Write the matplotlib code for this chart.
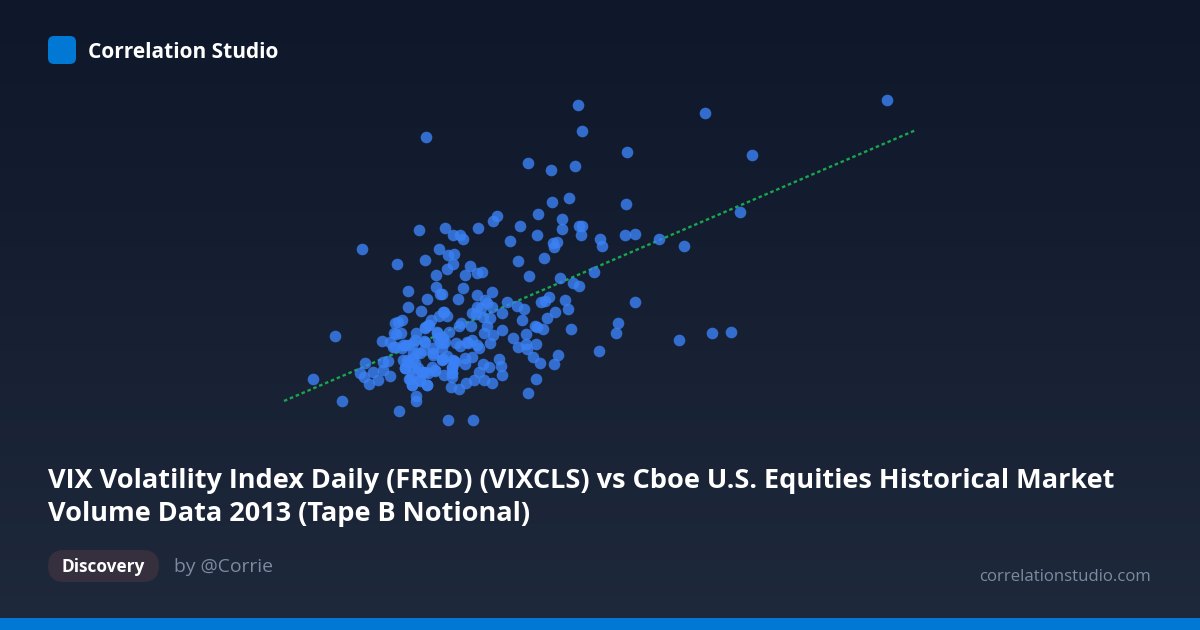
import numpy as np
import matplotlib
matplotlib.use("Agg")
import matplotlib.pyplot as plt
from matplotlib.patches import FancyBboxPatch, Rectangle

plt.rcParams['font.family'] = ['Open Sans', 'DejaVu Sans']

brand = "Correlation Studio"
title_lines = ["VIX Volatility Index Daily (FRED) (VIXCLS) vs Cboe U.S. Equities Historical Market",
               "Volume Data 2013 (Tape B Notional)"]
tag = "Discovery"
author = "by @Corrie"
site = "correlationstudio.com"

# Points (horizontal, vertical position in the plot scale)
upper_points = [
    (425.7,137.3),(527.7,163.3),(551,170),(575,166),(582.3,131),(568.7,198),(552,201.7),(538,214),
    (562,219),(562.3,229.3),(497,216.3),(493.3,221),(520,226.3),(477.7,228.3),(445,228),(418.7,230.3),
    (453.3,235),(459.7,235.3),(463,239),(510.3,241),(537,235.3),(578.7,226),(582,226.3),(580.7,235),
    (600.3,239.3),(602.3,245.7),(557,242),(552.7,243.3),(554,247),(362,249),(439.3,248.7),(448,255.3),
    (454.3,253.7),(425,260.3),(397,264),(453.3,264.3),(447.3,269),(470.3,266),(482.3,272),(476.7,273.3),
    (464.7,275.3),(435.7,275),(517.7,261.3),(544.3,258.3),(529.3,276),(560,278.3),(594.3,272.3),
    (578,105),(705,113),(887,100),(627,152),(752,155),(626,204),(740,212),(625,235),(635,234),(659,239),(684,246),
]
right_points = [
    (573.3,283.3),(579,286),(463,288),(492,292),(458,298.7),(441.7,294),(477.3,294.7),(506.7,301.7),
    (516.7,306),(524.3,309),(549,297),(545.3,300.7),(541.3,301.7),(565,300),(567.7,308.7),(555.3,312),
    (547,318.3),(522,320.3),(534.7,325.7),(536.7,327.3),(543,328.7),(570.7,328.7),(617.7,323.3),(615.7,333),
    (599,350.7),(485,300),(486.7,303.3),(476.7,306.7),(481,307.7),(491.7,307.3),(501.7,312.7),(472.3,313.3),
    (475.7,314),(483.3,316.7),(490,318.3),(444,312),(446.7,316),(461,322.7),(459,325.7),(471,325.7),
    (449,331.7),(487.3,326),(484,333),(502.3,329.7),(493.3,334.7),(490,343),(513.3,338),(526,334.3),
    (536.3,344),(526.3,344),(517.7,347),(527.3,349.3),(532.7,356.7),(539.7,362.7),(558.3,355),(554,364.3),
    (535.7,379.3),(528,393.3),(447.7,420),(473,420),(456.3,342.7),(460,346),(468.3,343.3),(472.3,340),
    (479.3,347.7),(476.7,345),(443.3,338.3),(440,341.7),(446.7,356),(454.3,361.3),(443.3,359.3),(472.3,356.7),
    (465,358.3),(465,364.3),(498.7,359),(501.3,366),(489,367.3),(483,364),(479.3,371.7),(501.7,375.3),
    (484.3,379.7),(492,383),(474,379.7),(466.3,382.7),(459.3,389),(451,387),(451.7,368.3),(451.7,373.3),
    (452.3,377.3),(444,375),(635,302),(678.5,340),(711.5,333),(731,332),
]
left_points = [
    (335.3,336.3),(312.7,378.7),(342,401),(399.3,410.7),(416,396),(416,401.3),(408,291.3),(408,307.3),
    (426.7,299.3),(421,311.3),(435.7,287.3),(440.3,294),(402,320),(395.3,323.3),(394.3,332.7),(396,334),
    (400.7,332.7),(381.7,341),(390,341.7),(393.3,346.7),(388.3,361),(383.3,362.3),(364.7,362.7),(383.3,370),
    (372.7,372),(360.3,373),(364,376.7),(389.7,376.3),(378.3,379.7),(369.3,384),(409.3,379),(412.3,385),
    (427.3,385.3),(420,380.7),(403.3,345),(408.3,345),(415,340),(424.3,340.7),(424.3,350),(420,352.7),
    (433.3,348.3),(436.7,331.7),(441.7,338.3),(441.7,348.3),(445,341.7),(466.7,341.7),(443.3,311.7),(439,316),
    (431,320),(425,327.3),(429.3,325),(416,332.7),(413.3,353.3),(403.3,360),(408.3,363.3),(413.3,358.3),
    (405,368.3),(411.7,368.3),(418.3,368.3),(425,371.7),(435,370.7),(431.7,366.7),(421.7,371.7),(433.3,355),
    (441.7,359.3),(455,361.7),
]
cluster_points = [
    (405,345),(413,343),(425,342),(417,353),(407,360),(415,363),(405,368),(422,372),(435,370),(412,375),
    (428,373),(412,385),(427,385),(410,379),(420,380),(433,353),(442,360),(452,367),(452,373),(453,360),
    (395,347),(402,348),(437,333),(438,338),(443,343),(428,325),(425,328),(398,322),
]
trend_x = [284, 916]
trend_y = [401, 130]

points = upper_points + right_points + left_points + cluster_points
xs = [p[0] for p in points]
ys = [p[1] for p in points]

fig = plt.figure(figsize=(12, 6.3), dpi=100)
ax = fig.add_axes([0, 0, 1, 1])
ax.set_xlim(0, 1200)
ax.set_ylim(630, 0)
ax.axis('off')

grad = np.linspace(0, 1, 256)[:, None, None]
top = np.array([0x0f, 0x17, 0x2a]) / 255
bot = np.array([0x1e, 0x29, 0x3b]) / 255
ax.imshow(top + (bot - top) * grad, extent=(0, 1200, 630, 0), aspect='auto', zorder=0)

ax.plot(trend_x, trend_y, color='#1aa54f', lw=1.7, dashes=(1.5, 1.2), zorder=2)
ax.scatter(xs, ys, s=70, color='#3b82f6', alpha=0.8, linewidths=0, zorder=3)

ax.add_patch(FancyBboxPatch((52, 40), 20, 20, boxstyle="round,pad=4,rounding_size=6",
                            fc='#0078d4', ec='none', zorder=4))
ax.text(88, 52, brand, color='white', fontsize=15, fontweight='bold', va='center', ha='left', zorder=5)

ax.text(48, 481, title_lines[0], color='white', fontsize=19.5, fontweight='bold', va='center', ha='left', zorder=5)
ax.text(48, 514, title_lines[1], color='white', fontsize=19.5, fontweight='bold', va='center', ha='left', zorder=5)

ax.add_patch(FancyBboxPatch((64, 566), 79, 0, boxstyle="round,pad=16,rounding_size=16",
                            fc='#352f3e', ec='none', zorder=4))
ax.text(103.5, 567.5, tag, color='white', fontsize=12.4, fontweight='bold', va='center', ha='center', zorder=5)
ax.text(174, 567, author, color='#7c8ba1', fontsize=13.9, va='center', ha='left', zorder=5)
ax.text(1151, 577, site, color='#7c8ba1', fontsize=12.1, va='center', ha='right', zorder=5)

ax.add_patch(Rectangle((0, 618), 1200, 12, fc='#0078d4', ec='none', zorder=4))

fig.savefig('out.png', dpi=100)
